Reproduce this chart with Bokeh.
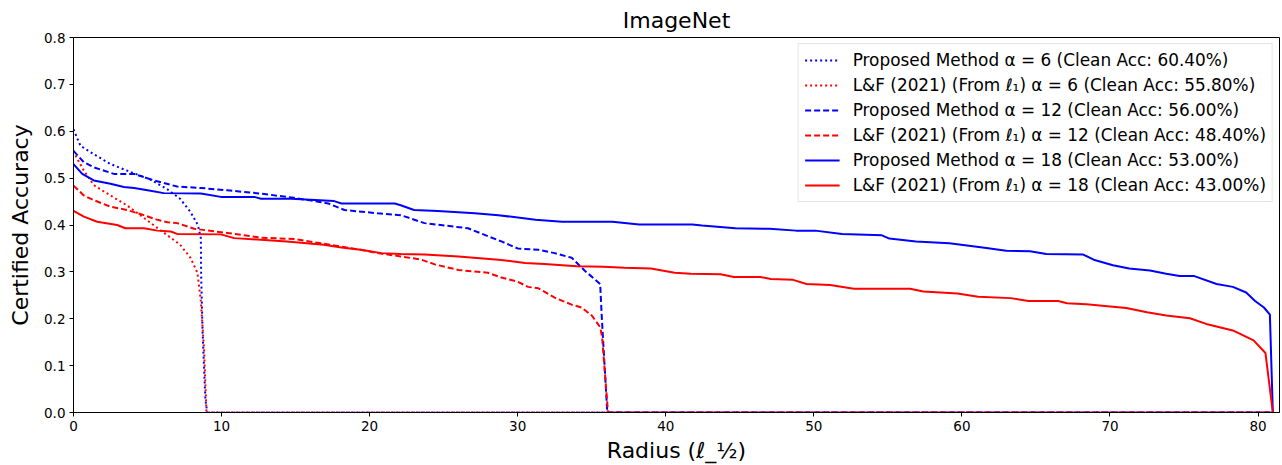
from bokeh.plotting import figure
from bokeh.models import Legend, LegendItem, FixedTicker, Range1d
from bokeh.embed import file_html
from bokeh.resources import INLINE

# ---- data (radius, certified accuracy) ----
pm6 = [(0, 0.604), (0.47, 0.569), (1.37, 0.551), (2.5, 0.530), (3.86, 0.513), (5.2, 0.497),
       (6.3, 0.477), (7.2, 0.456), (7.9, 0.428), (8.4, 0.40), (8.6, 0.372), (8.62, 0.295),
       (8.72, 0.169), (8.91, 0.027), (9.03, 0.0), (81.0, 0.0)]
lf6 = [(0, 0.558), (0.14, 0.548), (0.7, 0.516), (1.37, 0.485), (2.5, 0.463), (3.6, 0.442),
       (4.5, 0.421), (5.4, 0.40), (6.3, 0.379), (7.2, 0.358), (7.9, 0.33), (8.37, 0.298),
       (8.6, 0.238), (8.82, 0.133), (8.98, 0.0), (81.0, 0.0)]
pm12 = [(0, 0.558), (0.7, 0.534), (1.37, 0.523), (2.73, 0.509), (4.1, 0.509), (5.44, 0.495),
        (7.0, 0.482), (8.6, 0.479), (10.4, 0.474), (12.66, 0.467), (14.9, 0.458), (17.2, 0.446),
        (18.3, 0.432), (20.56, 0.425), (22.1, 0.421), (23.7, 0.404), (26.65, 0.393), (28.0, 0.376),
        (28.9, 0.365), (30.0, 0.35), (31.4, 0.347), (32.5, 0.34), (33.65, 0.33), (34.55, 0.302),
        (35.57, 0.274), (35.68, 0.203), (36.05, 0.0), (81.0, 0.0)]
lf12 = [(0, 0.484), (0.7, 0.463), (1.37, 0.453), (2.5, 0.439), (3.6, 0.432), (4.76, 0.421),
        (5.67, 0.411), (6.35, 0.406), (7.0, 0.404), (8.15, 0.392), (10.4, 0.383), (12.66, 0.373),
        (14.9, 0.37), (16.7, 0.361), (18.1, 0.354), (19.4, 0.347), (20.56, 0.34), (22.1, 0.333),
        (23.5, 0.326), (24.4, 0.316), (26.0, 0.304), (28.0, 0.298), (28.9, 0.288), (30.0, 0.279),
        (30.7, 0.268), (31.4, 0.265), (32.5, 0.245), (33.65, 0.23), (34.3, 0.224), (35.0, 0.207),
        (35.57, 0.182), (35.7, 0.161), (36.1, 0.0), (81.0, 0.0)]
pm18 = [(0, 0.53), (0.59, 0.509), (1.37, 0.495), (2.5, 0.488), (3.4, 0.481), (4.1, 0.479),
        (5.0, 0.474), (6.1, 0.468), (8.6, 0.467), (9.95, 0.46), (12.2, 0.46), (12.66, 0.456),
        (14.7, 0.456), (17.6, 0.451), (18.1, 0.446), (21.7, 0.446), (22.1, 0.442), (23.0, 0.432),
        (24.6, 0.43), (27.1, 0.425), (28.7, 0.421), (31.2, 0.411), (33.0, 0.407), (36.4, 0.407),
        (38.2, 0.401), (41.8, 0.401), (42.45, 0.399), (44.7, 0.393), (47.0, 0.392), (48.8, 0.388),
        (50.1, 0.388), (51.9, 0.381), (54.6, 0.378), (55.1, 0.371), (56.9, 0.365), (59.15, 0.361),
        (61.4, 0.352), (63.0, 0.345), (64.6, 0.344), (65.7, 0.338), (68.2, 0.337), (68.9, 0.326),
        (70.2, 0.314), (71.3, 0.307), (72.7, 0.303), (73.8, 0.296), (74.7, 0.291), (75.7, 0.291),
        (77.2, 0.274), (78.3, 0.268), (79.2, 0.256), (79.8, 0.238), (80.4, 0.224), (80.8, 0.209),
        (81.0, 0.0)]
lf18 = [(0, 0.43), (0.7, 0.418), (1.6, 0.407), (2.95, 0.40), (3.5, 0.393), (4.76, 0.393),
        (5.67, 0.388), (6.57, 0.386), (7.0, 0.381), (9.95, 0.38), (10.85, 0.372), (12.4, 0.369),
        (14.4, 0.365), (16.9, 0.358), (18.1, 0.352), (19.4, 0.347), (20.8, 0.34), (22.1, 0.338),
        (23.7, 0.337), (26.0, 0.333), (28.7, 0.326), (30.5, 0.319), (31.8, 0.317), (34.0, 0.312),
        (35.8, 0.311), (37.2, 0.309), (39.0, 0.307), (40.6, 0.298), (41.7, 0.296), (43.7, 0.295),
        (44.6, 0.289), (46.4, 0.289), (47.1, 0.285), (48.6, 0.283), (49.5, 0.274), (51.1, 0.272),
        (52.7, 0.264), (56.5, 0.264), (57.4, 0.258), (59.7, 0.254), (61.1, 0.247), (63.3, 0.244),
        (64.5, 0.238), (66.5, 0.238), (67.1, 0.233), (68.4, 0.231), (71.1, 0.223), (72.5, 0.214),
        (73.8, 0.207), (75.4, 0.201), (76.5, 0.189), (78.3, 0.175), (79.7, 0.154), (80.5, 0.127),
        (81.0, 0.0)]

labels = [
    "Proposed Method α = 6 (Clean Acc: 60.40%)",
    "L&F (2021) (From ℓ₁) α = 6 (Clean Acc: 55.80%)",
    "Proposed Method α = 12 (Clean Acc: 56.00%)",
    "L&F (2021) (From ℓ₁) α = 12 (Clean Acc: 48.40%)",
    "Proposed Method α = 18 (Clean Acc: 53.00%)",
    "L&F (2021) (From ℓ₁) α = 18 (Clean Acc: 43.00%)",
]
series = [pm6, lf6, pm12, lf12, pm18, lf18]
colors = ["#0000ff", "#ff0000", "#0000ff", "#ff0000", "#0000ff", "#ff0000"]
dashes = ["2 3", "2 3", "6 3", "6 3", "solid", "solid"]

x_ticks = [0, 10, 20, 30, 40, 50, 60, 70, 80]
y_ticks = [0.0, 0.1, 0.2, 0.3, 0.4, 0.5, 0.6, 0.7, 0.8]

FONT = "DejaVu Sans"

p = figure(width=1282, height=465, output_backend="svg", toolbar_location=None,
           x_range=Range1d(0, 81.45), y_range=Range1d(0, 0.8),
           min_border_left=73, min_border_right=3, min_border_top=34, min_border_bottom=52,
           title="ImageNet")
p.title.align = "center"
p.title.text_font = FONT
p.title.text_font_size = "22px"
p.title.text_font_style = "normal"
p.title.text_color = "black"

p.grid.visible = False
p.outline_line_color = "black"
p.outline_line_width = 1
p.background_fill_color = "white"
p.border_fill_color = "white"

items = []
for pts, c, d, lab in zip(series, colors, dashes, labels):
    xs = [a for a, b in pts]
    ys = [b for a, b in pts]
    r = p.line(xs, ys, line_color=c, line_width=2, line_dash=d)
    items.append(LegendItem(label=lab, renderers=[r]))

for ax in (p.xaxis[0], p.yaxis[0]):
    ax.major_tick_in = 0
    ax.major_tick_out = 4
    ax.minor_tick_line_color = None
    ax.axis_line_color = "black"
    ax.major_tick_line_color = "black"
    ax.major_label_text_font = FONT
    ax.major_label_text_font_size = "13.5px"
    ax.major_label_text_color = "black"
    ax.axis_label_text_font = FONT
    ax.axis_label_text_font_style = "normal"
    ax.axis_label_text_color = "black"
    ax.axis_label_text_font_size = "22px"

p.xaxis.ticker = FixedTicker(ticks=x_ticks)
p.yaxis.ticker = FixedTicker(ticks=y_ticks)
p.yaxis.major_label_overrides = {v: f"{v:.1f}" for v in y_ticks}
p.xaxis.major_label_standoff = 4
p.yaxis.major_label_standoff = 4
p.xaxis.axis_label = "Radius (ℓ_½)"
p.yaxis.axis_label = "Certified Accuracy"
p.xaxis.axis_label_standoff = 4
p.yaxis.axis_label_standoff = 8

legend = Legend(items=items, location="top_right")
legend.label_text_font = FONT
legend.label_text_font_size = "16.9px"
legend.label_text_color = "black"
legend.glyph_width = 35
legend.glyph_height = 20
legend.label_height = 20
legend.spacing = 5
legend.padding = 6
legend.margin = 6
legend.label_standoff = 13
legend.border_line_color = "#cccccc"
legend.border_line_width = 1
legend.background_fill_alpha = 0.8
p.add_layout(legend)

open("out.html", "w").write(file_html(p, INLINE))
